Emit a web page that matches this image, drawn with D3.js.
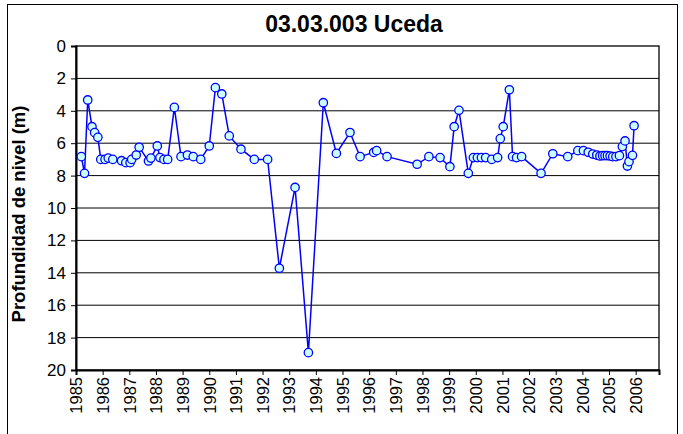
<!DOCTYPE html>
<html><head><meta charset="utf-8">
<script src="https://cdn.jsdelivr.net/npm/d3@7"></script>
<style>body{margin:0;background:#fff}text{font-family:Arial,"Liberation Sans",sans-serif}</style>
</head><body>
<svg id="c" width="683" height="434"></svg>
<script>
const title = "03.03.003 Uceda";
const yTitle = "Profundidad de nivel (m)";
const dates = [1985.20,1985.32,1985.44,1985.60,1985.70,1985.82,1985.93,1986.09,1986.21,1986.38,
1986.71,1986.87,1987.03,1987.09,1987.26,1987.37,1987.72,1987.81,1988.05,1988.15,
1988.30,1988.44,1988.69,1988.94,1989.18,1989.40,1989.68,1990.00,1990.23,1990.47,
1990.75,1991.19,1991.69,1992.19,1992.63,1993.22,1993.72,1994.28,1994.77,1995.28,
1995.66,1996.17,1996.28,1996.67,1997.80,1998.24,1998.66,1999.03,1999.19,1999.37,
1999.72,1999.91,2000.06,2000.21,2000.37,2000.60,2000.82,2000.92,2001.03,2001.26,
2001.38,2001.53,2001.72,2002.45,2002.89,2003.45,2003.83,2004.04,2004.22,2004.39,
2004.54,2004.66,2004.76,2004.85,2004.94,2005.04,2005.14,2005.26,2005.39,2005.50,
2005.60,2005.69,2005.75,2005.88,2005.94];
const depths = [6.83,7.86,3.33,4.98,5.35,5.64,7.00,7.00,6.92,7.00,
7.08,7.20,7.20,7.00,6.73,6.25,7.10,6.92,6.17,6.89,
7.00,7.00,3.79,6.83,6.73,6.83,7.00,6.17,2.57,2.96,
5.55,6.37,7.00,7.00,13.72,8.73,18.93,3.50,6.63,5.34,
6.83,6.57,6.46,6.83,7.30,6.83,6.89,7.45,4.98,3.97,
7.86,6.89,6.89,6.89,6.89,7.00,6.89,5.72,4.98,2.70,
6.83,6.89,6.83,7.86,6.65,6.83,6.46,6.46,6.56,6.67,
6.73,6.79,6.77,6.77,6.77,6.79,6.83,6.83,6.77,6.21,
5.86,7.41,7.14,6.75,4.92];
const yearTicks = d3.range(1985, 2007);
const depthTicks = d3.range(0, 21, 2);

const svg = d3.select("#c");
const L = 76, R = 659, T = 46, B = 370;
const x = d3.scaleLinear().domain([1985, 2006.875]).range([L, R]);
const y = d3.scaleLinear().domain([0, 20]).range([T, B]);

// outer border
svg.append("rect").attr("x", 7.5).attr("y", 4.5).attr("width", 670).attr("height", 440)
  .attr("fill", "none").attr("stroke", "#000").attr("stroke-width", 1);

// gridlines
svg.append("g").selectAll("line").data(depthTicks.filter(d => d > 0 && d < 20)).join("line")
  .attr("x1", L).attr("x2", R).attr("y1", d => y(d)).attr("y2", d => y(d))
  .attr("stroke", "#000").attr("stroke-width", 1);

// plot border
svg.append("rect").attr("x", L).attr("y", T).attr("width", R - L).attr("height", B - T)
  .attr("fill", "none").attr("stroke", "#000").attr("stroke-width", 1.3);

// y axis
const ya = svg.append("g").attr("transform", `translate(${L},0)`)
  .call(d3.axisLeft(y).tickValues(depthTicks).tickSize(5).tickPadding(5).tickFormat(d3.format("d")));
ya.select(".domain").attr("stroke", "#000").attr("stroke-width", 2);
ya.selectAll(".tick line").attr("stroke", "#000").attr("stroke-width", 1);
ya.selectAll("text").attr("font-size", 17).attr("fill", "#000").attr("font-family", "Arial, Liberation Sans, sans-serif");

// x axis
const xa = svg.append("g").attr("transform", `translate(0,${B})`)
  .call(d3.axisBottom(x).tickValues(yearTicks).tickSize(5).tickFormat(d3.format("d")));
xa.select(".domain").attr("stroke", "#000").attr("stroke-width", 2);
xa.selectAll(".tick line").attr("stroke", "#000").attr("stroke-width", 1);
xa.selectAll("text").attr("font-size", 16.5).attr("fill", "#000")
  .attr("font-family", "Arial, Liberation Sans, sans-serif")
  .attr("transform", "rotate(-90)").attr("text-anchor", "end")
  .attr("x", -7).attr("y", 0).attr("dy", "0.35em");

// line
const pts = dates.map((d, i) => [d, depths[i]]);
svg.append("path").datum(pts)
  .attr("d", d3.line().x(d => x(d[0])).y(d => y(d[1])))
  .attr("fill", "none").attr("stroke", "#0000FF").attr("stroke-width", 1.5);
svg.append("g").selectAll("circle").data(pts).join("circle")
  .attr("cx", d => x(d[0])).attr("cy", d => y(d[1])).attr("r", 4.2)
  .attr("fill", "#CCFFFF").attr("stroke", "#0000FF").attr("stroke-width", 1.3);

// titles
svg.append("text").attr("x", 354).attr("y", 32).attr("text-anchor", "middle")
  .attr("font-size", 23).attr("font-weight", "bold").text(title);
svg.append("text").attr("transform", `translate(25,${(T + B) / 2 + 6}) rotate(-90)`)
  .attr("text-anchor", "middle").attr("font-size", 18.5).attr("font-weight", "bold").text(yTitle);
</script>
</body></html>
